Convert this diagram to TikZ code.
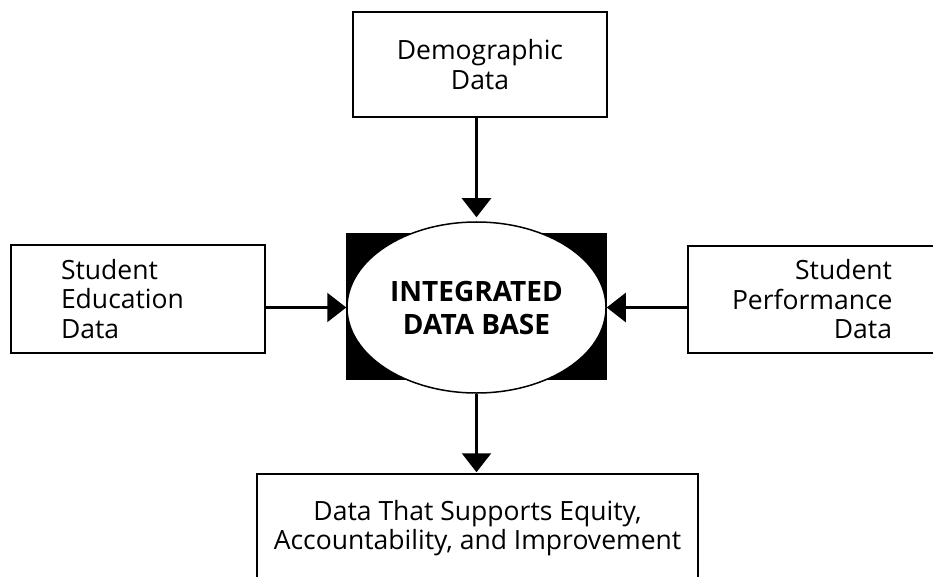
\documentclass[tikz,border=0pt]{standalone}
\usepackage{fontspec}
\setmainfont{Open Sans}
\usetikzlibrary{shapes.geometric,arrows.meta}
\tikzset{
  databox/.style={draw, line width=1.5pt, font=\fontsize{26.5}{29.5}\selectfont},
  hub/.style={ellipse, draw, fill=white, line width=1.5pt, inner sep=0pt,
    minimum width=259pt, minimum height=171pt, align=center,
    font=\fontsize{28}{33}\selectfont\bfseries},
  feed/.style={-{Triangle[length=19pt,width=29pt]}, line width=2.3pt},
}
\begin{document}
\begin{tikzpicture}[x=1pt,y=-1pt]
	\useasboundingbox (0,0) rectangle (933,577);

            \node[databox, minimum width=254pt, minimum height=105pt, align=center] (demo) at (480,64.5) {Demographic\\Data};
            \node[databox, minimum height=108pt, inner xsep=50pt, text width=154pt, align=left] (edu) at (138,299) {Student\\Education\\Data};
            \node[databox, minimum height=107pt, inner xsep=44pt, text width=160pt, align=right] (perf) at (812,299.5) {Student\\Performance\\Data};
            \node[databox, minimum width=441pt, minimum height=108pt, align=center] (out) at (477.5,528) {Data That Supports Equity,\\Accountability, and Improvement};

            \node[fill=black, minimum width=261pt, minimum height=147pt] (panel) at (476.5,306.5) {};
            \node[hub] (db) at (476.5,307.5) {INTEGRATED\\DATA BASE};

            \draw[feed, shorten >=4pt] (db |- demo.south) -- (db.north);
            \draw[feed] (edu.east |- db) -- (db.west);
            \draw[feed] (perf.west |- db) -- (db.east);
            \draw[feed, shorten >=1pt] (db.south) -- (db |- out.north);

        \end{tikzpicture}
\end{document}
